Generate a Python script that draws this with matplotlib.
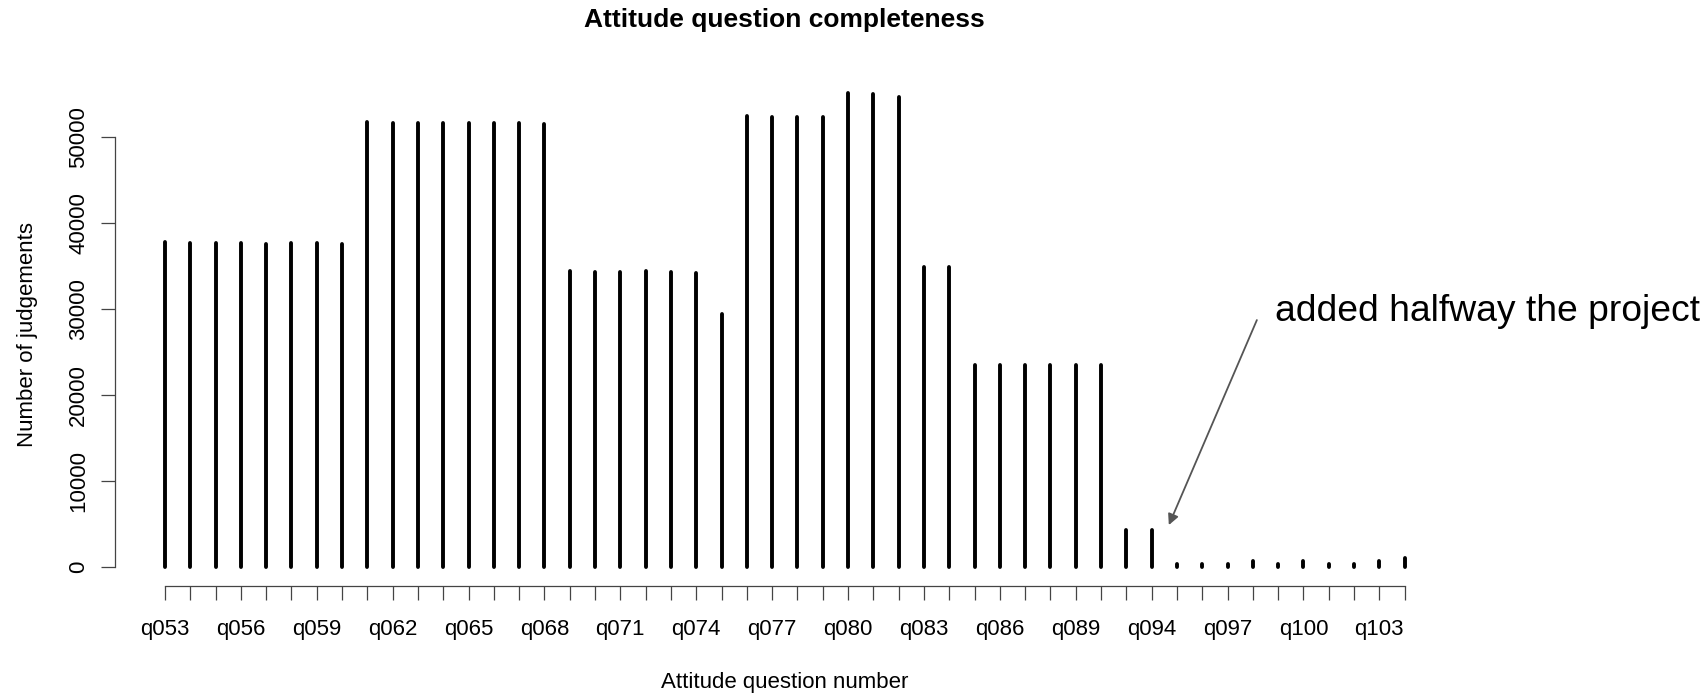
import matplotlib
matplotlib.use("Agg")
import matplotlib.pyplot as plt
import numpy as np

plt.rcParams['font.family'] = ['Liberation Sans', 'DejaVu Sans']

# ---- data ----
categories = ['q053', 'q054', 'q055', 'q056', 'q057', 'q058', 'q059', 'q060',
              'q061', 'q062', 'q063', 'q064', 'q065', 'q066', 'q067', 'q068',
              'q069', 'q070', 'q071', 'q072', 'q073', 'q074', 'q075',
              'q076', 'q077', 'q078', 'q079', 'q080', 'q081', 'q082',
              'q083', 'q084', 'q085', 'q086', 'q087', 'q088', 'q089', 'q090',
              'q092', 'q094', 'q095', 'q096', 'q097', 'q098', 'q099', 'q100',
              'q101', 'q102', 'q103', 'q104']
judgements = [37850, 37700, 37650, 37720, 37610, 37720, 37720, 37610,
              51750, 51700, 51700, 51720, 51700, 51700, 51720, 51550,
              34440, 34280, 34280, 34470, 34280, 34200, 29440,
              52450, 52400, 52400, 52420, 55200, 55000, 54700,
              34860, 34860, 23450, 23450, 23450, 23450, 23450, 23450,
              4280, 4250, 330, 320, 330, 640, 320, 650,
              300, 320, 730, 1030]
label_every = 3
y_ticks = [0, 10000, 20000, 30000, 40000, 50000]
title = "Attitude question completeness"
x_title = "Attitude question number"
y_title = "Number of judgements"
note = "added halfway the project"

# ---- figure ----
fig = plt.figure(figsize=(17.07, 6.93), dpi=100)
ax = fig.add_axes([0.0676, 0.1545, 0.7843, 0.7391])

x = np.arange(len(categories))
lc = ax.vlines(x, 0, judgements, colors='black', linewidth=2.8)
lc.set_capstyle('round')

n = len(categories)
ext = 0.04 * (n - 1)
ax.set_xlim(-ext, (n - 1) + ext)
ymax = max(judgements)
ax.set_ylim(-0.04 * ymax, 1.04 * ymax)

for s in ['top', 'right']:
    ax.spines[s].set_visible(False)
for s in ['left', 'bottom']:
    ax.spines[s].set_color('#444444')
    ax.spines[s].set_linewidth(0.9)
ax.spines['left'].set_bounds(y_ticks[0], y_ticks[-1])
ax.spines['bottom'].set_bounds(0, n - 1)

ax.set_xticks(x)
ax.set_xticklabels([c if i % label_every == 0 else '' for i, c in enumerate(categories)])
ax.set_yticks(y_ticks)
ax.set_yticklabels([str(v) for v in y_ticks])
ax.tick_params(axis='both', length=10, width=0.9, color='#444444',
               labelsize=16, labelcolor='black')
ax.tick_params(axis='x', pad=14)
ax.tick_params(axis='y', pad=9)
for lab in ax.get_yticklabels():
    lab.set_rotation(90)
    lab.set_va('center')

ax.set_xlabel(x_title, fontsize=16)
ax.xaxis.set_label_coords(0.5, -0.1876)
ax.xaxis.label.set_va('center')
ax.set_ylabel(y_title, fontsize=16)
ax.yaxis.set_label_coords(-0.0655, 0.49)
ax.yaxis.label.set_va('center')

ax.text(0.5, 1.1056, title, transform=ax.transAxes, ha='center', va='center',
        fontsize=19, fontweight='bold')

ax.annotate('', xy=(39.68, 4877), xytext=(43.16, 28736),
            arrowprops=dict(arrowstyle='-|>', color='#555555', lw=1.3,
                            mutation_scale=16, shrinkA=0, shrinkB=0),
            annotation_clip=False)
ax.text(43.88, 28650, note, fontsize=26.8, ha='left', va='baseline',
        clip_on=False)

fig.savefig('out.png', dpi=100)
